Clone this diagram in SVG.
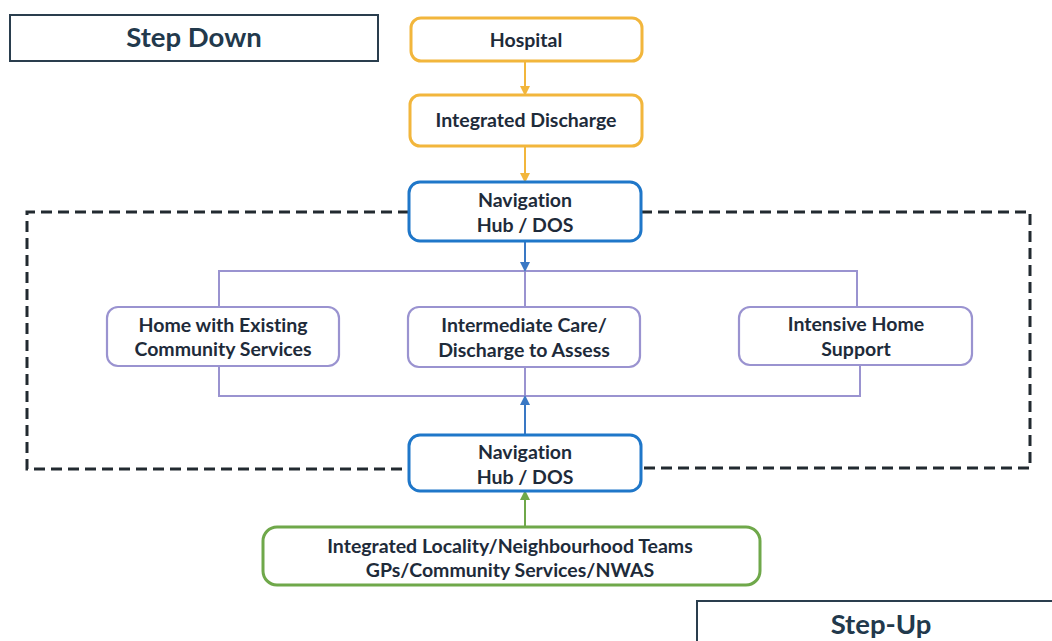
<svg xmlns="http://www.w3.org/2000/svg" width="1052" height="641" viewBox="0 0 1052 641">
  <style>
    .lbl { font-family: Lato, "Open Sans", "Liberation Sans", sans-serif; font-weight: 700; fill: #1e2b3a; text-anchor: middle; font-variant-ligatures: none; }
    .n { font-size: 19.5px; }
    .title { font-size: 27.5px; fill: #22394c; }
    .yel { fill: #ffffff; stroke: #f2b63c; stroke-width: 3; }
    .blu { fill: #ffffff; stroke: #1f77c9; stroke-width: 3; }
    .pur { fill: #ffffff; stroke: #9a93d0; stroke-width: 2.2; }
    .grn { fill: #ffffff; stroke: #6fa84a; stroke-width: 3; }
    .tbox { fill: #ffffff; stroke: #2a3e4e; stroke-width: 2; }
  </style>
  <defs>
    <marker id="ahY" markerWidth="10" markerHeight="10" refX="8" refY="5" orient="auto" markerUnits="userSpaceOnUse">
      <path d="M0,0 L10,5 L0,10 z" fill="#f2b63c"/>
    </marker>
    <marker id="ahB" markerWidth="10" markerHeight="10" refX="8" refY="5" orient="auto" markerUnits="userSpaceOnUse">
      <path d="M0,0 L10,5 L0,10 z" fill="#3a78c4"/>
    </marker>
    <marker id="ahG" markerWidth="10" markerHeight="10" refX="8" refY="5" orient="auto" markerUnits="userSpaceOnUse">
      <path d="M0,0 L10,5 L0,10 z" fill="#6fa84a"/>
    </marker>
  </defs>

  <rect width="1052" height="641" fill="#ffffff"/>

  <!-- dashed boundary around the navigation hubs and service options -->
  <g id="boundary" fill="none" stroke="#222a30" stroke-width="3" stroke-dasharray="11,6">
    <path d="M409,212 H27 V469 H409"/>
    <path d="M641,212 H1030 V468 H641"/>
  </g>

  <g id="connectors" fill="none">
    <line x1="525" y1="61" x2="525" y2="94" stroke="#f2b63c" stroke-width="2" marker-end="url(#ahY)"/>
    <line x1="525" y1="146" x2="525" y2="181" stroke="#f2b63c" stroke-width="2" marker-end="url(#ahY)"/>
    <!-- purple distribution frame -->
    <path d="M219,307 V271 H857 V307" stroke="#9a93d0" stroke-width="2"/>
    <path d="M219,366 V396 H860 V365" stroke="#9a93d0" stroke-width="2"/>
    <line x1="525" y1="271" x2="525" y2="307" stroke="#9a93d0" stroke-width="2"/>
    <line x1="525" y1="367" x2="525" y2="396" stroke="#9a93d0" stroke-width="2"/>
    <line x1="525" y1="241" x2="525" y2="270" stroke="#3a78c4" stroke-width="2" marker-end="url(#ahB)"/>
    <line x1="525" y1="435" x2="525" y2="397" stroke="#3a78c4" stroke-width="2" marker-end="url(#ahB)"/>
    <line x1="525" y1="527" x2="525" y2="492" stroke="#6fa84a" stroke-width="2" marker-end="url(#ahG)"/>
  </g>

  <g id="step-down">
    <rect class="tbox" x="10" y="15" width="368" height="46"/>
    <text class="lbl title" x="194" y="47">Step Down</text>
  </g>

  <g id="hospital">
    <rect class="yel" x="411" y="18" width="231" height="43" rx="10"/>
    <text class="lbl n" x="526" y="47">Hospital</text>
  </g>

  <g id="integrated-discharge">
    <rect class="yel" x="410" y="95" width="232" height="51" rx="10"/>
    <text class="lbl n" x="526" y="127">Integrated Discharge</text>
  </g>

  <g id="nav-hub-top">
    <rect class="blu" x="409" y="182" width="232" height="59" rx="11"/>
    <text class="lbl n" x="525" y="207">Navigation</text>
    <text class="lbl n" x="525" y="232">Hub / DOS</text>
  </g>

  <g id="home-existing">
    <rect class="pur" x="107" y="307" width="232" height="59" rx="11"/>
    <text class="lbl n" x="223" y="332">Home with Existing</text>
    <text class="lbl n" x="223" y="356">Community Services</text>
  </g>

  <g id="intermediate-care">
    <rect class="pur" x="408" y="307" width="232" height="60" rx="11"/>
    <text class="lbl n" x="524" y="332">Intermediate Care/</text>
    <text class="lbl n" x="524" y="357">Discharge to Assess</text>
  </g>

  <g id="intensive-home">
    <rect class="pur" x="739" y="307" width="233" height="58" rx="11"/>
    <text class="lbl n" x="856" y="331">Intensive Home</text>
    <text class="lbl n" x="856" y="356">Support</text>
  </g>

  <g id="nav-hub-bottom">
    <rect class="blu" x="409" y="435" width="232" height="56" rx="11"/>
    <text class="lbl n" x="525" y="459">Navigation</text>
    <text class="lbl n" x="525" y="484">Hub / DOS</text>
  </g>

  <g id="locality-teams">
    <rect class="grn" x="263" y="527" width="497" height="58" rx="14"/>
    <text class="lbl n" x="510" y="553">Integrated Locality/Neighbourhood Teams</text>
    <text class="lbl n" x="510" y="577">GPs/Community Services/NWAS</text>
  </g>

  <g id="step-up">
    <rect class="tbox" x="697" y="601" width="370" height="60"/>
    <text class="lbl title" x="881" y="634">Step-Up</text>
  </g>
</svg>
